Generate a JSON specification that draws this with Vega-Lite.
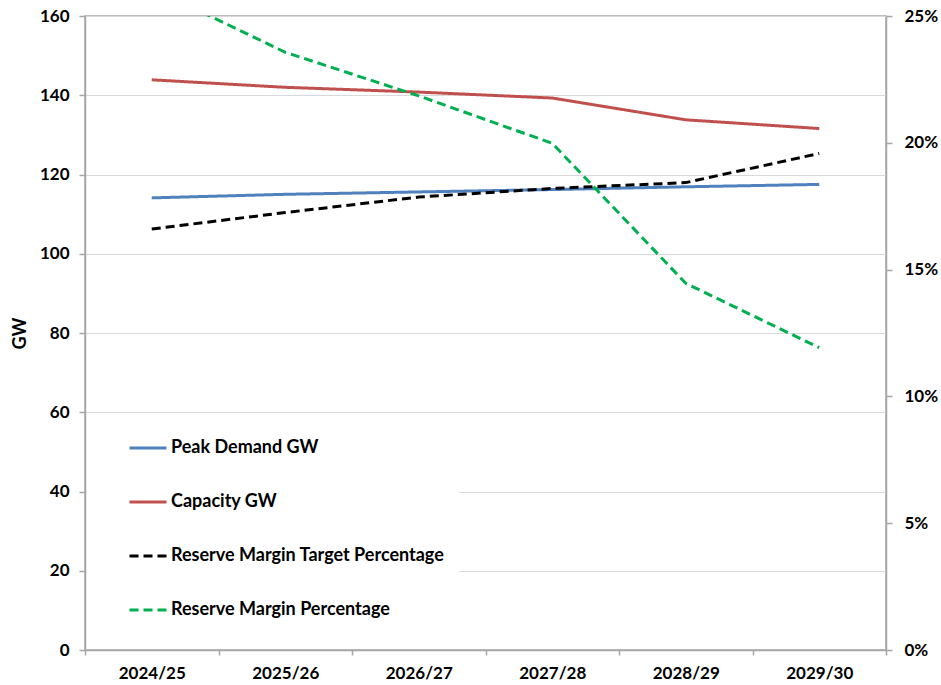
{
  "$schema": "https://vega.github.io/schema/vega-lite/v6.json",
  "width": 801,
  "height": 634,
  "autosize": {"type": "none"},
  "padding": {"left": 85, "top": 16, "right": 55, "bottom": 35},
  "background": "white",
  "config": {
    "font": "Lato",
    "view": {"stroke": "#a6a6a6", "strokeWidth": 1.5},
    "axis": {"labelFont": "Lato", "labelFontWeight": "bold", "labelColor": "#000000", "titleFont": "Lato", "titleFontWeight": "bold", "titleColor": "#000000", "domainColor": "#a6a6a6", "domainWidth": 1.5, "tickColor": "#a6a6a6", "tickWidth": 1.5},
    "legend": {"title": null, "orient": "none", "legendX": 2, "legendY": 398, "fillColor": "white", "padding": 14, "symbolOffset": 27, "symbolType": "stroke", "symbolSize": 1369, "symbolStrokeWidth": 3, "labelFont": "Lato", "labelFontWeight": "bold", "labelFontSize": 18, "labelColor": "#000000", "labelOffset": 3, "labelLimit": 500, "rowPadding": 25}
  },
  "data": {
    "values": [
      {"year": "2024/25", "series": "Peak Demand GW", "kind": "gw", "value": 114.1},
      {"year": "2025/26", "series": "Peak Demand GW", "kind": "gw", "value": 115.0},
      {"year": "2026/27", "series": "Peak Demand GW", "kind": "gw", "value": 115.6},
      {"year": "2027/28", "series": "Peak Demand GW", "kind": "gw", "value": 116.2},
      {"year": "2028/29", "series": "Peak Demand GW", "kind": "gw", "value": 116.9},
      {"year": "2029/30", "series": "Peak Demand GW", "kind": "gw", "value": 117.5},
      {"year": "2024/25", "series": "Capacity GW", "kind": "gw", "value": 143.9},
      {"year": "2025/26", "series": "Capacity GW", "kind": "gw", "value": 142.0},
      {"year": "2026/27", "series": "Capacity GW", "kind": "gw", "value": 140.8},
      {"year": "2027/28", "series": "Capacity GW", "kind": "gw", "value": 139.3},
      {"year": "2028/29", "series": "Capacity GW", "kind": "gw", "value": 133.8},
      {"year": "2029/30", "series": "Capacity GW", "kind": "gw", "value": 131.6},
      {"year": "2024/25", "series": "Reserve Margin Target Percentage", "kind": "pct", "value": 0.166},
      {"year": "2025/26", "series": "Reserve Margin Target Percentage", "kind": "pct", "value": 0.1725},
      {"year": "2026/27", "series": "Reserve Margin Target Percentage", "kind": "pct", "value": 0.1786},
      {"year": "2027/28", "series": "Reserve Margin Target Percentage", "kind": "pct", "value": 0.182},
      {"year": "2028/29", "series": "Reserve Margin Target Percentage", "kind": "pct", "value": 0.1843},
      {"year": "2029/30", "series": "Reserve Margin Target Percentage", "kind": "pct", "value": 0.1958},
      {"year": "2024/25", "series": "Reserve Margin Percentage", "kind": "pct", "value": 0.261},
      {"year": "2025/26", "series": "Reserve Margin Percentage", "kind": "pct", "value": 0.2357},
      {"year": "2026/27", "series": "Reserve Margin Percentage", "kind": "pct", "value": 0.2185},
      {"year": "2027/28", "series": "Reserve Margin Percentage", "kind": "pct", "value": 0.1998},
      {"year": "2028/29", "series": "Reserve Margin Percentage", "kind": "pct", "value": 0.1446},
      {"year": "2029/30", "series": "Reserve Margin Percentage", "kind": "pct", "value": 0.1192}
    ]
  },
  "encoding": {
    "x": {
      "field": "year", "type": "nominal", "sort": null,
      "scale": {"paddingInner": 0, "paddingOuter": 0},
      "axis": {"title": null, "labelAngle": 0, "labelFontSize": 17, "labelPadding": 10, "tickBand": "extent", "tickSize": 5, "grid": false}
    },
    "color": {
      "field": "series", "type": "nominal",
      "scale": {"domain": ["Peak Demand GW", "Capacity GW", "Reserve Margin Target Percentage", "Reserve Margin Percentage"], "range": ["#4f81bd", "#c0504d", "#000000", "#00b050"]}
    },
    "strokeDash": {
      "field": "series", "type": "nominal",
      "scale": {"domain": ["Peak Demand GW", "Capacity GW", "Reserve Margin Target Percentage", "Reserve Margin Percentage"], "range": [[1, 0], [1, 0], [9, 5], [9, 5]]}
    }
  },
  "layer": [
    {
      "transform": [{"filter": "datum.kind === 'gw'"}],
      "mark": {"type": "line", "strokeWidth": 3},
      "encoding": {
        "y": {
          "field": "value", "type": "quantitative",
          "scale": {"domain": [0, 160]},
          "axis": {"title": "GW", "titleFontSize": 18, "titlePadding": 10, "labelFontSize": 17, "tickCount": 20, "values": [0, 20, 40, 60, 80, 100, 120, 140, 160], "gridColor": "#d9d9d9", "gridWidth": 1.2, "tickSize": 6, "labelPadding": 10}
        }
      }
    },
    {
      "transform": [{"filter": "datum.kind === 'pct'"}],
      "mark": {"type": "line", "strokeWidth": 3, "clip": true},
      "encoding": {
        "y": {
          "field": "value", "type": "quantitative",
          "scale": {"domain": [0, 0.25]},
          "axis": {"orient": "right", "title": null, "format": ".0%", "labelFontSize": 17, "tickCount": 20, "values": [0, 0.05, 0.1, 0.15, 0.2, 0.25], "grid": false, "tickSize": 6, "labelPadding": 12}
        }
      }
    }
  ],
  "resolve": {"scale": {"y": "independent"}}
}
